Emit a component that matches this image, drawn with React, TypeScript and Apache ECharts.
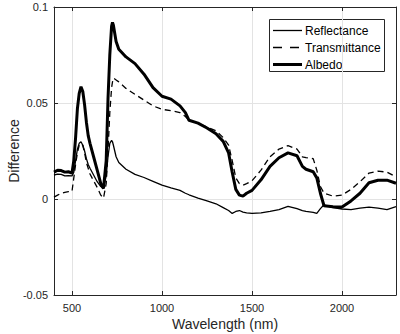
import React, { useEffect, useRef } from "react";
import * as echarts from "echarts";

const wavelength = [
  400, 420, 440, 460, 480, 500, 510, 520, 530, 540, 550, 560, 570, 580, 590, 600, 620, 640, 660, 675,
  690, 700, 710, 720, 725, 730, 745, 760, 800, 850, 900, 950, 1000, 1050, 1100, 1130, 1150, 1200, 1250,
  1300, 1340, 1370, 1390, 1410, 1430, 1450, 1470, 1500, 1550, 1600, 1650, 1700, 1750, 1780, 1800, 1840,
  1860, 1880, 1900, 1950, 2000, 2050, 2100, 2150, 2200, 2250, 2300,
];

const reflectance = [
  0.0125, 0.013, 0.0128, 0.012, 0.0122, 0.012, 0.014, 0.02, 0.026, 0.029, 0.0298, 0.028, 0.025, 0.021,
  0.018, 0.016, 0.0125, 0.009, 0.0065, 0.0055, 0.012, 0.022, 0.029, 0.0305, 0.0298, 0.028, 0.022, 0.019,
  0.0155, 0.0128, 0.0112, 0.0092, 0.0072, 0.0058, 0.0045, 0.003, 0.0022, 0.0005, -0.001, -0.0025,
  -0.0045, -0.006, -0.0075, -0.0065, -0.006, -0.0068, -0.0072, -0.0075, -0.0072, -0.0065, -0.0055,
  -0.0038, -0.005, -0.006, -0.0065, -0.007, -0.0075, -0.005, -0.003, -0.0045, -0.0052, -0.0055, -0.0048,
  -0.0042, -0.0048, -0.0055, -0.004,
];

const transmittance = [
  0.001, 0.002, 0.003, 0.0035, 0.0038, 0.004, 0.011, 0.018, 0.024, 0.028, 0.029, 0.028, 0.024, 0.019,
  0.016, 0.013, 0.0095, 0.006, 0.002, 0.0005, 0.008, 0.025, 0.045, 0.058, 0.061, 0.063, 0.062, 0.061,
  0.0576, 0.0545, 0.0515, 0.0485, 0.0467, 0.046, 0.045, 0.043, 0.041, 0.0395, 0.0375, 0.0355, 0.032,
  0.028, 0.02, 0.011, 0.008, 0.0072, 0.008, 0.0095, 0.015, 0.022, 0.026, 0.0278, 0.026, 0.022, 0.0215,
  0.021, 0.015, 0.0065, 0.003, 0.0015, 0.002, 0.005, 0.009, 0.0135, 0.0145, 0.014, 0.0115,
];

const albedo = [
  0.014, 0.015, 0.0148, 0.014, 0.0142, 0.0135, 0.02, 0.032, 0.047, 0.055, 0.0585, 0.056, 0.049, 0.04,
  0.033, 0.029, 0.022, 0.015, 0.008, 0.0055, 0.02, 0.052, 0.075, 0.09, 0.092, 0.0905, 0.082, 0.078,
  0.074, 0.0705, 0.065, 0.058, 0.0535, 0.052, 0.0485, 0.045, 0.041, 0.0395, 0.037, 0.034, 0.03, 0.024,
  0.014, 0.005, 0.002, 0.0015, 0.003, 0.0045, 0.01, 0.017, 0.0215, 0.024, 0.0225, 0.017, 0.0155, 0.0142,
  0.011, 0.003, -0.0035, -0.004, -0.0042, -0.001, 0.003, 0.0085, 0.0098, 0.0098, 0.0082,
];

const seriesNames = ["Reflectance", "Transmittance", "Albedo"];

const FONT = "Liberation Sans, Arial, Helvetica, sans-serif";
const AXIS_COLOR = "#262626";

const lineStyles = [
  { color: "#000", width: 1.3, type: "solid" as any },
  { color: "#000", width: 1.3, type: [6, 4] as any },
  { color: "#000", width: 3, type: "solid" as any },
];

function pairs(ys: number[]) {
  return wavelength.map((x, i) => [x, ys[i]]);
}

export default function App() {
  const ref = useRef<HTMLDivElement>(null);
  useEffect(() => {
    if (!ref.current) return;
    const chart = echarts.init(ref.current, undefined, { renderer: "svg" });
    const xCommon = {
      type: "value" as const,
      min: 400,
      max: 2300,
      splitNumber: 4,
      axisLine: { show: true, onZero: false, lineStyle: { color: AXIS_COLOR, width: 1 } },
      axisTick: { show: true, inside: true, length: 4, lineStyle: { color: AXIS_COLOR } },
    };
    const yCommon = {
      type: "value" as const,
      min: -0.05,
      max: 0.1,
      interval: 0.05,
      axisLine: { show: true, onZero: false, lineStyle: { color: AXIS_COLOR, width: 1 } },
      axisTick: { show: true, inside: true, length: 4, lineStyle: { color: AXIS_COLOR } },
    };

    // legend box drawn with graphic elements
    const legX = 269.5;
    const legY = 19.5;
    const legW = 115;
    const legH = 52;
    const rowY = [30.5, 47.5, 64.5];
    const legendChildren: any[] = [
      {
        type: "rect",
        shape: { x: legX, y: legY, width: legW, height: legH },
        style: { fill: "#fff", stroke: AXIS_COLOR, lineWidth: 1 },
      },
    ];
    seriesNames.forEach((name, i) => {
      const ls = lineStyles[i];
      legendChildren.push({
        type: "line",
        shape: { x1: 273, y1: rowY[i], x2: 302, y2: rowY[i] },
        style: {
          stroke: "#000",
          lineWidth: ls.width,
          lineDash: Array.isArray(ls.type) ? [9, 8] : null,
        },
      });
      legendChildren.push({
        type: "text",
        x: 305,
        y: rowY[i],
        style: {
          text: name,
          font: `12px ${FONT}`,
          fill: "#000",
          verticalAlign: "middle",
          align: "left",
        },
      });
    });

    chart.setOption({
      animation: false,
      backgroundColor: "#ffffff",
      textStyle: { fontFamily: FONT },
      grid: { left: 54, right: 4, top: 7, bottom: 39, containLabel: false, outerBoundsMode: "none" },
      xAxis: [
        {
          ...xCommon,
          position: "bottom",
          name: "Wavelength (nm)",
          nameLocation: "middle",
          nameGap: 22,
          nameMoveOverlap: false,
          nameTextStyle: { fontSize: 14, color: AXIS_COLOR, fontFamily: FONT },
          axisLabel: {
            show: true,
            showMinLabel: false,
            showMaxLabel: false,
            fontSize: 11,
            color: AXIS_COLOR,
            margin: 7,
            fontFamily: FONT,
            formatter: (v: number) => String(v),
          },
          splitLine: { show: true, lineStyle: { color: "#e3e3e3", width: 1 } },
        },
        {
          ...xCommon,
          position: "top",
          axisLabel: { show: false },
          splitLine: { show: false },
        },
      ],
      yAxis: [
        {
          ...yCommon,
          position: "left",
          name: "Difference",
          nameLocation: "middle",
          nameGap: 33,
          nameMoveOverlap: false,
          nameTextStyle: { fontSize: 14, color: AXIS_COLOR, fontFamily: FONT },
          axisLabel: {
            fontSize: 11,
            color: AXIS_COLOR,
            margin: 6,
            fontFamily: FONT,
            formatter: (v: number) => String(Math.round(v * 1000) / 1000),
          },
          splitLine: { show: true, lineStyle: { color: "#e3e3e3", width: 1 } },
        },
        {
          ...yCommon,
          position: "right",
          axisLabel: { show: false },
          splitLine: { show: false },
        },
      ],
      graphic: [{ type: "group", z: 100, children: legendChildren }],
      series: seriesNames.map((name, i) => ({
        name,
        type: "line",
        data: pairs([reflectance, transmittance, albedo][i]),
        symbol: "none",
        showSymbol: false,
        lineStyle: lineStyles[i],
        itemStyle: { color: "#000" },
        z: 2 + i,
      })),
    });
    return () => chart.dispose();
  }, []);
  return <div ref={ref} style={{ width: 400, height: 334, position: "absolute", left: 0, top: 0 }} />;
}
